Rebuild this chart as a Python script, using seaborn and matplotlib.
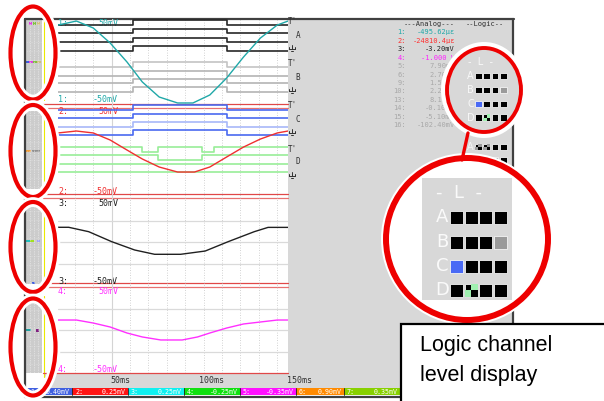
import matplotlib
matplotlib.use("Agg")
import matplotlib.pyplot as plt
import seaborn as sns
from matplotlib.patches import Rectangle, Ellipse
from matplotlib.lines import Line2D

sns.set_theme(style="white")
plt.rcParams["font.family"] = ["DejaVu Sans"]

# ---------------- data ----------------
ch1_t = [0, 12, 23, 34, 45, 55, 66, 78, 88, 99, 110, 121, 132, 143, 150]
ch1_mv = [42.9, 47.6, 39.4, 21.8, -0.6, -24.1, -41.8, -48.8, -48.8, -39.4, -19.4, 5.3, 27.6, 42.9, 47.6]
ch2_t = [0, 12, 23, 34, 45, 55, 66, 78, 89, 99, 110, 121, 132, 143, 150]
ch2_mv = [20.5, 22.7, 20.5, 12.5, 1.1, -9.1, -18.2, -23.9, -23.9, -18.2, -6.8, 4.5, 13.6, 20.5, 22.7]
ch3_t = [0, 7, 20, 35, 50, 63, 80, 96, 111, 128, 137, 150]
ch3_mv = [17.1, 17.1, 12.0, 0.4, -9.3, -14.3, -14.3, -10.5, 0.4, 12.0, 17.0, 17.0]
ch4_t = [0, 12, 23, 34, 45, 55, 67, 81, 91, 99, 110, 121, 132, 143, 150]
ch4_mv = [11.6, 11.6, 8.1, 3.5, -3.5, -8.1, -11.6, -11.6, -8.1, -3.5, 2.3, 7.0, 9.3, 11.6, 11.6]

# logic channels: step times (ms) and levels
pulse_t = [0, 49, 110, 150]
pulse_lv = [0, 1, 0, 0]
d0_t = [0, 55, 65, 94, 102, 150]
d0_lv = [1, 0, 1, 0, 1, 1]
d1_t = [0, 65, 94, 150]
d1_lv = [1, 0, 1, 1]
const_t = [0, 150]
const_hi = [1, 1]

panel_top_labels = ["1:", "2:", "3:", "4:"]
range_hi = ["50mV", "50mV", "50mV", "50mV"]
range_lo = ["-50mV", "-50mV", "-50mV", "-50mV"]
time_labels = ["50ms", "100ms", "150ms"]

analog_ids = ["1:", "2:", "3:", "4:", "5:", "6:", "9:", "10:", "13:", "14:", "15:", "16:"]
analog_vals = ["-495.62µε", "-24810.4µε", "-3.20mV", "-1.000 V", "7.90mV", "2.70mV",
               "1.50mV", "2.20mV", "8.10mV", "-0.10mV", "-5.10mV", "-102.40mV"]

bar_ids = ["1:", "2:", "3:", "4:", "5:", "6:", "7:"]
bar_vals = ["0.40mV", "0.25mV", "0.25mV", "-0.25mV", "-0.35mV", "0.90mV", "0.35mV"]

level_rows = ["A", "B", "C", "D"]
level_states = [["k", "k", "k", "k"],
                ["k", "k", "k", "g"],
                ["b", "k", "k", "k"],
                ["k", "x", "k", "k"]]
extra_rows = ["A", "B"]
extra_states = [["c", "c", "k", "k"], ["k", "k", "g", "k"]]

# ---------------- figure ----------------
W, H = 604, 401
fig = plt.figure(figsize=(W / 100, H / 100), dpi=100)
fig.patch.set_facecolor("white")
bg = fig.add_axes([0, 0, 1, 1])
bg.set_xlim(0, W); bg.set_ylim(H, 0); bg.axis("off"); bg.set_zorder(0)


def pax(x0, y0, x1, y1, z):
    a = fig.add_axes([x0 / W, 1 - y1 / H, (x1 - x0) / W, (y1 - y0) / H])
    a.set_zorder(z)
    a.axis("off")
    return a


MONO = "DejaVu Sans Mono"
GRAY = "#d8d8d8"
FRAME = "#404040"

# gray right panel + bottom label row
bg.add_patch(Rectangle((288, 19), 513 - 288, 388 - 19, color=GRAY, lw=0))
bg.add_patch(Rectangle((45, 373), 288 - 45, 15, color=GRAY, lw=0))

# left level strips
strips = [(20, 96), (111, 189), (207, 284), (297, 373)]
for (t0, t1) in strips:
    bg.add_patch(Rectangle((26, t0), 16, t1 - t0, color="#cccccc", lw=0))
    for xx in (29.5, 33.5, 37.5):
        bg.plot([xx, xx], [t0, t1], color="#f2f2f2", lw=0.5, ls=(0, (1, 1.5)))
    yy = t0 + 4
    while yy < t1:
        bg.plot([27, 41], [yy, yy], color="#e8e8e8", lw=0.4, ls=(0, (1, 2)))
        yy += 9
    bg.plot([44, 44], [t0 - 1, t1 + 4], color="#eaea00", lw=0.8)

marks = [(29, 22, 2.5, 2.5, "#e040e0"), (33, 22, 2.5, 2.5, "#80c040"), (37, 22, 2.5, 2.5, "#d0c080"),
         (26, 61, 3, 2, "#4060e0"), (29, 61, 4, 2, "#e040e0"), (33, 61, 4, 2, "#80c040"), (37, 61, 4, 2, "#d0c080"),
         (26, 150, 5, 2, "#f0a040"), (32, 150, 8, 2, "#909090"),
         (26, 240, 4, 2, "#20c0c0"), (30, 240, 4, 2, "#a0e020"), (37, 240, 3, 2, "#a0a0ff"),
         (26, 329, 5, 2, "#20a0a0"), (36, 329, 3, 2.5, "#802080"), (32, 282, 3, 1.5, "#4060e0")]
for (mx, my, mw, mh, mc) in marks:
    bg.add_patch(Rectangle((mx, my), mw, mh, color=mc, lw=0))

# separators
for ry, rc in [(104, "#e04848"), (108, "#e87070"), (194, "#e04848"), (198, "#e87070"),
               (283, "#e04848"), (287, "#e87070"), (373, "#e04848")]:
    bg.plot([43, 288], [ry, ry], color=rc, lw=0.9)

# frame
bg.plot([25, 514], [19, 19], color=FRAME, lw=1.6)
bg.plot([25, 25], [19, 397], color=FRAME, lw=1.6)
bg.plot([513, 513], [19, 330], color=FRAME, lw=1.6)
bg.plot([25, 400], [396.5, 396.5], color=FRAME, lw=1.6)


def ground_mark(ax, x, y, col):
    # earth symbol (no installed font has U+23DA), drawn as strokes
    ax.plot([x, x], [y - 3, y + 1], color=col, lw=0.7)
    ax.plot([x - 2.6, x + 2.6], [y + 1, y + 1], color=col, lw=0.7)
    ax.plot([x - 2.6, x - 2.6], [y - 1.5, y + 1], color=col, lw=0.7)
    ax.plot([x + 2.6, x + 2.6], [y - 1.5, y + 1], color=col, lw=0.7)
    ax.plot([x - 1.2, x + 1.2], [y + 2.6, y + 2.6], color=col, lw=0.7)


# right-column logic group symbols
for ytop, letter in [(22, "A"), (64, "B"), (106, "C"), (149, "D")]:
    bg.text(292, ytop, "T'", fontsize=5.5, family=MONO, color="#303030", ha="center", va="center")
    bg.text(298, ytop + 13, letter, fontsize=5.5, family=MONO, color="#303030", ha="center", va="center")
    ground_mark(bg, 292, ytop + 26, "#303030")

# analog list
bg.text(429, 24, "---Analog---", fontsize=5, family=MONO, color="#303030", ha="center", va="center")
bg.text(485, 24, "--Logic--", fontsize=5, family=MONO, color="#303030", ha="center", va="center")
list_colors = ["#20a8a8", "#ff3030", "#202020", "#ff20ff"] + ["#a8a8a8"] * 8
for i, (lid, lv) in enumerate(zip(analog_ids, analog_vals)):
    y = 32.3 + i * 8.45
    bg.text(406, y, lid, fontsize=5, family=MONO, color=list_colors[i], ha="right", va="center")
    bg.text(455, y, lv, fontsize=5, family=MONO, color=list_colors[i], ha="right", va="center")

# time labels
for lab, (lx, ha) in zip(time_labels, [(120, "center"), (211, "center"), (287, "left")]):
    bg.text(lx, 380.5, lab, fontsize=6, family=MONO, color="#303030", ha=ha, va="center")

# bottom colour bar
bar_x = [27, 72, 128, 184, 240, 296, 344, 400]
bar_c = ["#4060e0", "#ff1414", "#10f0f0", "#10e010", "#ff10ff", "#ff8a00", "#88d000"]
for i in range(7):
    x0, x1 = bar_x[i], bar_x[i + 1]
    bg.add_patch(Rectangle((x0, 388), x1 - x0, 7, color=bar_c[i], lw=0))
    bg.plot([x1, x1], [388, 395], color="#202020", lw=0.6)
    bg.text(x0 + 3, 391.6, bar_ids[i], fontsize=4.8, family=MONO, color="white", ha="left", va="center")
    bg.text(x1 - 2, 391.6, bar_vals[i], fontsize=4.8, family=MONO, color="white", ha="right", va="center")


def level_display(ax, x0, size, gap, rows_y, states):
    cmap = {"k": "#000000", "g": "#9a9a9a", "b": "#4a6af5"}
    for r, row in enumerate(states):
        for c, s in enumerate(row):
            x = x0 + c * (size + gap)
            y = rows_y[r] - size / 2
            if s in cmap:
                ax.add_patch(Rectangle((x, y), size, size, fc=cmap[s], ec="#f4f4f4", lw=0.6))
            else:
                ax.add_patch(Rectangle((x, y), size, size, fc="#000000", ec="#f4f4f4", lw=0.6))
                qc = "#a0f0b0" if s == "x" else "#9a9a9a"
                ax.add_patch(Rectangle((x + size / 2, y), size / 2, size / 2, fc=qc, lw=0))
                ax.add_patch(Rectangle((x, y + size / 2), size / 2, size / 2, fc=qc, lw=0))


# remnants of the screen's own logic display below the small circle
level_display(bg, 475, 6.7, 1.6, [147, 160], extra_states)
for lab, yy in zip(extra_rows, [147, 160]):
    bg.text(470, yy, lab, fontsize=7, color="#f4f4f4", ha="center", va="center")

# ---------------- grid + waveforms ----------------
grid = pax(58, 19, 288, 373, 0.5)
grid.set_xlim(0, 150); grid.set_ylim(0, 1)
for gt in [11, 23, 47, 59, 71, 83, 95, 107, 119, 131, 143]:
    grid.axvline(gt, color="#c4c4c4", lw=0.6, ls=(0, (1, 2)))
grid.axvline(35, color="#d4d4d4", lw=0.8)

# logic overlay (rows in screen pixels)
lax = pax(58, 19, 288, 195, 1)
lax.set_xlim(0, 150); lax.set_ylim(195, 19)
HGT = 4.7
logic_groups = [
    ([25, 33.3, 42.3, 50.7], ["#282828"] * 4, [(pulse_t, pulse_lv)] * 4),
    ([66.7, 76, 83.3, 91.7], ["#c4c4c4", "#b4b4b4", "#b4b4b4", "#b4b4b4"], [(pulse_t, pulse_lv)] * 4),
    ([110, 118.3, 126.7, 135], ["#4a6af0", "#4a6af0", "#a8b8f8", "#4a6af0"], [(pulse_t, pulse_lv)] * 4),
    ([151.7, 160, 168.3, 177], ["#98ee98"] * 4,
     [(d0_t, d0_lv), (d1_t, d1_lv), (const_t, const_hi), (const_t, const_hi)]),
]
for lows, cols, sigs in logic_groups:
    for low, col, (tt, lv) in zip(lows, cols, sigs):
        yy = [low - v * HGT for v in lv]
        sns.lineplot(x=tt, y=yy, ax=lax, color=col, lw=1.2, drawstyle="steps-post",
                     estimator=None, sort=False)
lax.axis("off")

panels = [(19, 104), (107, 195), (199, 285), (287, 373)]
waves = [(ch1_t, ch1_mv, "#20a8a8"), (ch2_t, ch2_mv, "#f03030"),
         (ch3_t, ch3_mv, "#202020"), (ch4_t, ch4_mv, "#ff30ff")]
lab_cols = ["#20a8a8", "#f03030", "#202020", "#ff30ff"]
for i, ((top, bot), (tt, vv, col)) in enumerate(zip(panels, waves)):
    ax = pax(58, top, 288, bot, 2)
    ax.set_xlim(0, 150); ax.set_ylim(-50, 50)
    if i >= 2:
        for hv in (-25, 0, 25):
            ax.axhline(hv, color="#dadada", lw=0.9, zorder=0)
    sns.lineplot(x=tt, y=vv, ax=ax, color=col, lw=1.0, estimator=None, sort=False)
    ax.axis("off")
    bg.text(58, top + 5, panel_top_labels[i], fontsize=6, family=MONO, color=lab_cols[i],
            ha="left", va="center", zorder=5)
    bg.text(118, top + 5, range_hi[i], fontsize=6, family=MONO, color=lab_cols[i],
            ha="right", va="center", zorder=5)
    bg.text(58, bot - 4, panel_top_labels[i], fontsize=6, family=MONO, color=lab_cols[i],
            ha="left", va="center", zorder=5)
    bg.text(118, bot - 4, range_lo[i], fontsize=6, family=MONO, color=lab_cols[i],
            ha="right", va="center", zorder=5)

# ---------------- foreground annotations ----------------
fg = fig.add_axes([0, 0, 1, 1])
fg.set_xlim(0, W); fg.set_ylim(H, 0); fg.axis("off"); fg.set_zorder(10)
fg.patch.set_alpha(0)

RED = "#ee0000"
for (cx, cy, ew, eh) in [(33, 53, 45, 93), (33, 151, 45, 92), (33, 247, 45, 90), (33, 347, 45, 97)]:
    fg.add_patch(Ellipse((cx, cy), ew, eh, fill=False, ec="white", lw=7))
    fg.add_patch(Ellipse((cx, cy), ew, eh, fill=False, ec=RED, lw=3))

# small circle
fg.add_patch(Ellipse((484, 90), 86, 96, fc="white", ec="none"))
fg.add_patch(Ellipse((484, 90), 74, 84, fc=GRAY, ec="none"))
fg.text(480, 62, "-  L  -", fontsize=7, color="#f8f8f8", ha="center", va="center")
for lab, yy in zip(level_rows, [76, 90, 104, 117.7]):
    fg.text(470.5, yy, lab, fontsize=7, color="#f8f8f8", ha="center", va="center")
level_display(fg, 475, 6.7, 1.6, [76, 90, 104, 117.7], level_states)

# big circle
fg.add_patch(Ellipse((467, 239), 172, 172, fc="white", ec="none"))
fg.add_patch(Rectangle((422, 178), 90, 122, fc=GRAY, ec="none"))
fg.text(459, 193, "-  L  -", fontsize=13, color="#fafafa", ha="center", va="center")
for lab, yy in zip(level_rows, [217, 242, 266, 290]):
    fg.text(442, yy, lab, fontsize=13, color="#fafafa", ha="center", va="center")
level_display(fg, 450, 13, 1.5, [217, 242, 266, 290], level_states)

fg.add_line(Line2D([468, 462], [133, 160], color=RED, lw=2.4))
fg.add_patch(Ellipse((484, 90), 74, 84, fill=False, ec=RED, lw=2.8))
fg.add_patch(Ellipse((467, 239), 162, 162, fill=False, ec=RED, lw=4.3))

# callout box
fg.add_patch(Rectangle((400.5, 323.5), 210, 80, fc="white", ec="black", lw=1.6, clip_on=False))
fg.text(420, 350.5, "Logic channel", fontsize=15.5, family="Liberation Sans", color="black",
        ha="left", va="baseline")
fg.text(420, 381.5, "level display", fontsize=15.5, family="Liberation Sans", color="black",
        ha="left", va="baseline")

fig.savefig("out.png", dpi=100)
